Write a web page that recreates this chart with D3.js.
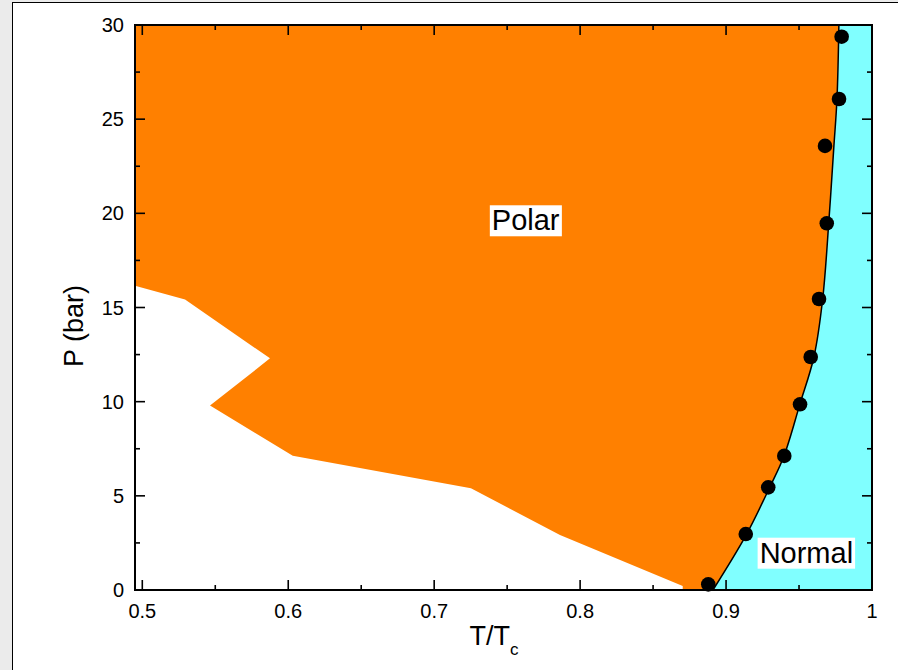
<!DOCTYPE html>
<html>
<head>
<meta charset="utf-8">
<script src="https://cdn.jsdelivr.net/npm/d3@7"></script>
<style>
  html, body { margin: 0; padding: 0; background: #ebebeb; }
  #panel {
    position: absolute; left: 12px; top: 2px; width: 886px; height: 668px;
    background: #fff; border-left: 1.5px solid #000; border-top: 1.5px solid #000;
    box-sizing: border-box;
  }
  svg { position: absolute; left: 0; top: 0; }
  text { font-family: "Liberation Sans", Arial, sans-serif; fill: #000; }
</style>
</head>
<body>
<div id="panel"></div>
<svg id="chart" width="898" height="670"></svg>
<script>
// Color palette
const COLORS = {
  polar: "#FF8000",
  normal: "#80FFFF",
  ink: "#000000",
};

// Lower edge of the polar region (T/Tc, P in bar)
const edgeT = [0.495, 0.5293, 0.5875, 0.5464, 0.6031, 0.7252, 0.7862, 0.8703, 0.8703];
const edgeP = [16.16, 15.43, 12.30, 9.79, 7.13, 5.40, 2.92, 0.21, 0];

// Fitted polar / normal boundary
const fitT = [0.8910, 0.9141, 0.9300, 0.9397, 0.9506, 0.9602, 0.9662, 0.9705, 0.9739, 0.9760, 0.9773];
const fitP = [0, 2.97, 5.47, 7.12, 9.87, 12.37, 15.45, 19.65, 23.58, 26.07, 30];

// Measured transition points
const pointT = [0.8878, 0.9135, 0.9289, 0.9399, 0.9507, 0.9580, 0.9637, 0.9690, 0.9678, 0.9774, 0.9792];
const pointP = [0.30, 2.97, 5.45, 7.12, 9.86, 12.37, 15.45, 19.47, 23.58, 26.07, 29.38];

// Axis ticks
const xTicks = [0.5, 0.6, 0.7, 0.8, 0.9, 1.0];
const xTickLabels = ["0.5", "0.6", "0.7", "0.8", "0.9", "1"];
const xMinorTicks = [0.55, 0.65, 0.75, 0.85, 0.95];
const yTicks = [0, 5, 10, 15, 20, 25, 30];
const yMinorTicks = [2.5, 7.5, 12.5, 17.5, 22.5, 27.5];

// Region labels
const regionLabels = [
  { text: "Polar", t: 0.7395, p: 19.1 },
  { text: "Normal", t: 0.9230, p: 1.45 },
];

const X_DOMAIN = [0.495, 1.0];
const Y_DOMAIN = [0, 30];

const PLOT = { left: 135, right: 872, top: 25, bottom: 590 };
const TICKS = { major: 10, minor: 5, width: 1.6 };
const FONT = { tick: "20px", axis: "27px", sub: "17px", region: "29px" };

const svg = d3.select("#chart");

const xScale = d3.scaleLinear().domain(X_DOMAIN).range([PLOT.left, PLOT.right]);
const yScale = d3.scaleLinear().domain(Y_DOMAIN).range([PLOT.bottom, PLOT.top]);

const zip = (ts, ps) => ts.map((t, i) => [t, ps[i]]);

function drawRegions() {
  const line = d3.line().x((d) => xScale(d[0])).y((d) => yScale(d[1]));

  // orange polar area, extended to the right edge and later covered by the normal area
  const polar = [[X_DOMAIN[0], 30], [1.0, 30], [1.0, 0]]
    .concat(zip(edgeT, edgeP).reverse());
  svg.append("path")
    .attr("d", line(polar) + "Z")
    .attr("fill", COLORS.polar);

  // cyan normal area to the right of the fitted boundary
  const curveLine = d3.line()
    .x((d) => xScale(d[0]))
    .y((d) => yScale(d[1]))
    .curve(d3.curveCatmullRom);
  const fit = zip(fitT, fitP);
  const normalPath = curveLine(fit) +
    `L${xScale(1.0)},${yScale(30)}L${xScale(1.0)},${yScale(0)}Z`;
  svg.append("path")
    .attr("d", normalPath)
    .attr("fill", COLORS.normal);

  svg.append("path")
    .attr("d", curveLine(fit))
    .attr("fill", "none")
    .attr("stroke", COLORS.ink)
    .attr("stroke-width", 1.5);

  svg.selectAll(".pt")
    .data(zip(pointT, pointP))
    .enter()
    .append("circle")
    .attr("class", "pt")
    .attr("cx", (d) => xScale(d[0]))
    .attr("cy", (d) => yScale(d[1]))
    .attr("r", 7.3)
    .attr("fill", COLORS.ink);
}

function drawLabels() {
  regionLabels.forEach((d) => {
    const g = svg.append("g");
    const txt = g.append("text")
      .attr("x", xScale(d.t))
      .attr("y", yScale(d.p))
      .style("font-size", FONT.region)
      .text(d.text);
    const bb = txt.node().getBBox();
    g.insert("rect", "text")
      .attr("x", bb.x - 2)
      .attr("y", bb.y + 1)
      .attr("width", bb.width + 4)
      .attr("height", bb.height - 1)
      .attr("fill", "#fff");
  });
}

function drawAxes() {
  const tickLen = (v, list) => (list.includes(v) ? TICKS.major : TICKS.minor);
  const allX = xTicks.concat(xMinorTicks);
  const allY = yTicks.concat(yMinorTicks);

  const axisG = svg.append("g")
    .attr("stroke", COLORS.ink)
    .attr("stroke-width", TICKS.width);

  // bottom and top ticks (inward)
  allX.forEach((v) => {
    const x = xScale(v);
    const len = tickLen(v, xTicks);
    axisG.append("line").attr("x1", x).attr("x2", x)
      .attr("y1", PLOT.bottom).attr("y2", PLOT.bottom - len);
    axisG.append("line").attr("x1", x).attr("x2", x)
      .attr("y1", PLOT.top).attr("y2", PLOT.top + len);
  });

  // left and right ticks (inward)
  allY.forEach((v) => {
    const y = yScale(v);
    const len = tickLen(v, yTicks);
    axisG.append("line").attr("x1", PLOT.left).attr("x2", PLOT.left + len)
      .attr("y1", y).attr("y2", y);
    axisG.append("line").attr("x1", PLOT.right).attr("x2", PLOT.right - len)
      .attr("y1", y).attr("y2", y);
  });

  // frame
  svg.append("rect")
    .attr("x", PLOT.left)
    .attr("y", PLOT.top)
    .attr("width", PLOT.right - PLOT.left)
    .attr("height", PLOT.bottom - PLOT.top)
    .attr("fill", "none")
    .attr("stroke", COLORS.ink)
    .attr("stroke-width", 2);

  // tick labels
  svg.selectAll(".xlab")
    .data(xTicks)
    .enter()
    .append("text")
    .attr("class", "xlab")
    .attr("x", (d) => xScale(d))
    .attr("y", PLOT.bottom + 28)
    .attr("text-anchor", "middle")
    .style("font-size", FONT.tick)
    .text((d, i) => xTickLabels[i]);

  svg.selectAll(".ylab")
    .data(yTicks)
    .enter()
    .append("text")
    .attr("class", "ylab")
    .attr("x", PLOT.left - 11)
    .attr("y", (d) => yScale(d))
    .attr("dy", "0.35em")
    .attr("text-anchor", "end")
    .style("font-size", FONT.tick)
    .text((d) => d);

  // axis titles
  const xTitle = svg.append("text")
    .attr("x", 494)
    .attr("y", 645)
    .attr("text-anchor", "middle")
    .style("font-size", FONT.axis);
  xTitle.append("tspan").text("T/T");
  xTitle.append("tspan")
    .attr("dy", 10)
    .style("font-size", FONT.sub)
    .text("c");

  svg.append("text")
    .attr("transform", "translate(83, 326) rotate(-90)")
    .attr("text-anchor", "middle")
    .style("font-size", FONT.axis)
    .text("P (bar)");
}

drawRegions();
drawLabels();
drawAxes();
</script>
</body>
</html>
